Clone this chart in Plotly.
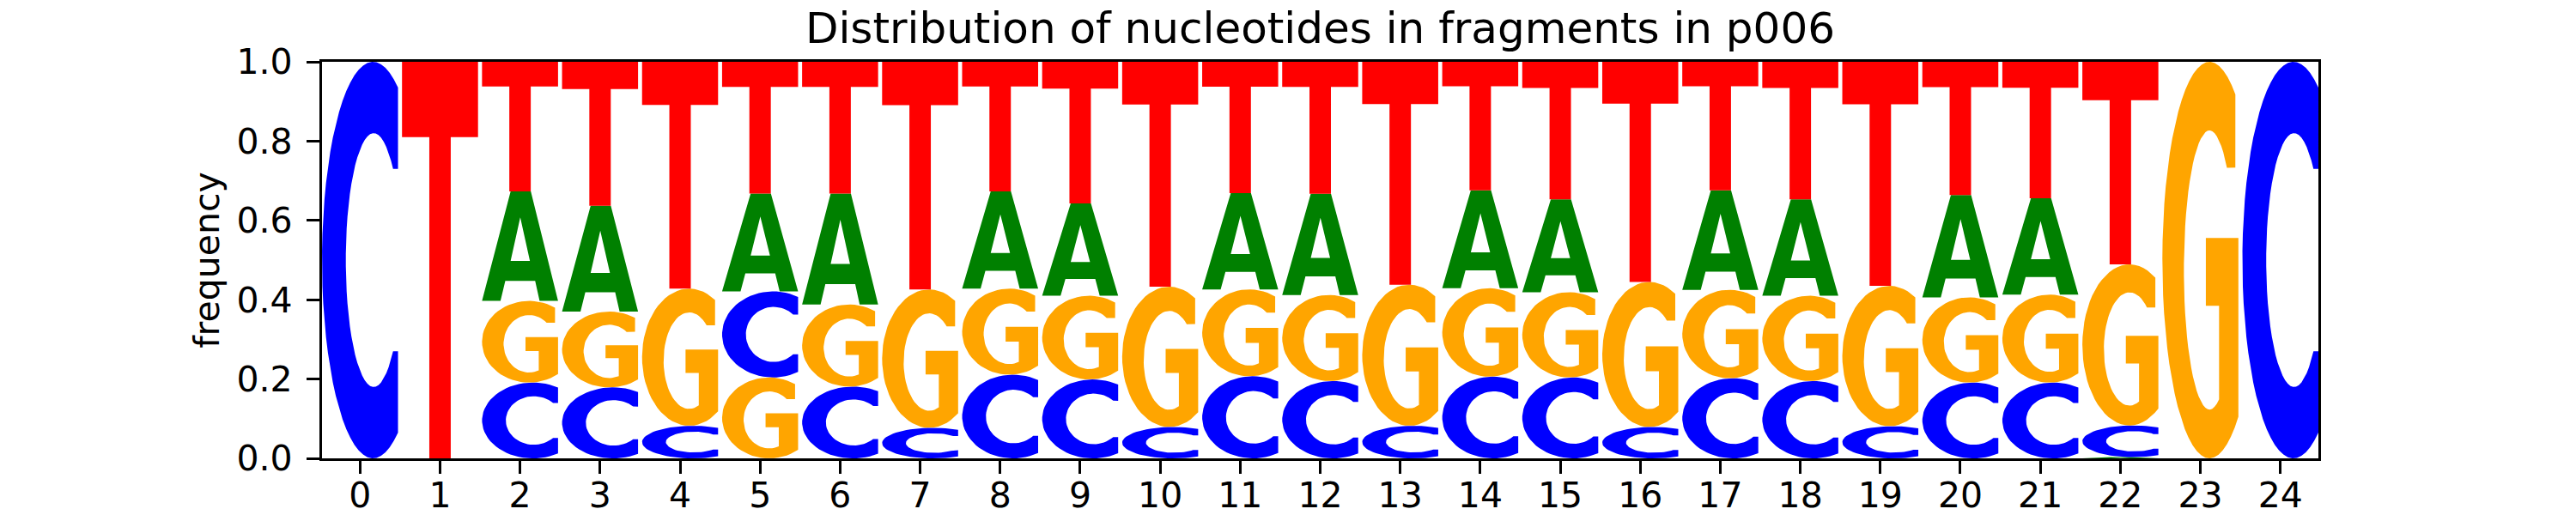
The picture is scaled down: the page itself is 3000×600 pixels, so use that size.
import numpy as np
import plotly.graph_objects as go

# sequence logo, positions 0..24
positions = list(range(25))
freq_A = [0, 0, 0.276, 0.267, 0, 0.247, 0.280, 0, 0.245, 0.233, 0, 0.243, 0.255,
          0, 0.247, 0.234, 0, 0.251, 0.243, 0, 0.258, 0.243, 0.003, 0, 0]
freq_C = [1.0, 0, 0.191, 0.179, 0.082, 0.217, 0.181, 0.077, 0.211, 0.199, 0.079, 0.207, 0.195,
          0.082, 0.206, 0.204, 0.079, 0.202, 0.195, 0.081, 0.191, 0.191, 0.080, 0, 1.0]
freq_G = [0, 0, 0.206, 0.191, 0.346, 0.204, 0.207, 0.349, 0.217, 0.211, 0.354, 0.219, 0.217,
          0.356, 0.223, 0.215, 0.366, 0.223, 0.215, 0.354, 0.215, 0.222, 0.406, 1.0, 0]
freq_T = [0, 1.0, 0.327, 0.363, 0.572, 0.332, 0.332, 0.574, 0.327, 0.357, 0.567, 0.331, 0.333,
          0.562, 0.324, 0.347, 0.555, 0.324, 0.347, 0.565, 0.336, 0.344, 0.511, 0, 0]

letters = ["A", "C", "G", "T"]
freqs = {"A": freq_A, "C": freq_C, "G": freq_G, "T": freq_T}
colors = {"A": "#008000", "C": "#0000ff", "G": "#ffa500", "T": "#ff0000"}
WIDTH = 0.95


def arc(cx, cy, rx, ry, a0, a1, n=48):
    t = np.radians(np.linspace(a0, a1, n))
    return list(zip(cx + rx * np.cos(t), cy + ry * np.sin(t)))


# letter outlines in a unit box, stretched later to each stack slot
def glyph_C():
    pts = arc(0.67, 0.5, 0.67, 0.5, 60.5, 299.5)
    pts.append((1.0, 0.27))
    pts += arc(0.68, 0.5, 0.367, 0.32, 314, 46)
    pts.append((1.0, 0.73))
    return pts


def glyph_G():
    pts = arc(0.62, 0.5, 0.62, 0.5, 56.7, 307.8)
    pts += [(1.0, 0.556), (0.572, 0.556), (0.572, 0.385), (0.746, 0.385)]
    pts += arc(0.62, 0.475, 0.337, 0.352, 292, 47.1)
    pts.append((0.96, 0.733))
    return pts


GLYPHS = {
    "A": [(0, 0), (0.243, 0), (0.306, 0.183), (0.699, 0.183), (0.757, 0), (1, 0),
          (0.642, 1), (0.376, 1)],
    "C": glyph_C(),
    "G": glyph_G(),
    "T": [(0, 1), (1, 1), (1, 0.81), (0.641, 0.81), (0.641, 0), (0.359, 0),
          (0.359, 0.81), (0, 0.81)],
}
A_HOLE = [(0.376, 0.366), (0.630, 0.366), (0.503, 0.764)]

xs = {L: [] for L in letters}
ys = {L: [] for L in letters}
hole_x, hole_y = [], []


def place(pts, p, y0, h, bx, by):
    for u, v in pts:
        bx.append(p - WIDTH / 2 + WIDTH * u)
        by.append(y0 + h * v)
    bx.append(None)
    by.append(None)


for i, p in enumerate(positions):
    # smallest at the bottom, biggest on top
    stack = sorted([(freqs[L][i], L) for L in letters if freqs[L][i] > 0])
    floor = 0.0
    for v, L in stack:
        place(GLYPHS[L], p, floor, v, xs[L], ys[L])
        if L == "A":
            place(A_HOLE, p, floor, v, hole_x, hole_y)
        floor += v

fig = go.Figure()
for L in letters:
    fig.add_trace(go.Scatter(
        x=xs[L], y=ys[L], mode="lines", fill="toself",
        fillcolor=colors[L], line=dict(width=0, color=colors[L]),
        hoverinfo="skip", showlegend=False, name=L
    ))
fig.add_trace(go.Scatter(
    x=hole_x, y=hole_y, mode="lines", fill="toself",
    fillcolor="white", line=dict(width=0, color="white"),
    hoverinfo="skip", showlegend=False
))

axis_style = dict(
    showline=True, linecolor="black", linewidth=3.3, mirror=True,
    ticks="outside", ticklen=15, tickwidth=3.3, tickcolor="black",
    showgrid=False, zeroline=False, automargin=False,
    tickfont=dict(family="DejaVu Sans", size=41, color="black"),
)

fig.update_layout(
    width=3000, height=600,
    margin=dict(l=375, r=300, t=72, b=66, autoexpand=False),
    paper_bgcolor="white", plot_bgcolor="white",
    font=dict(family="DejaVu Sans", color="black"),
    title=dict(
        text="Distribution of nucleotides in fragments in p006",
        font=dict(family="DejaVu Sans", size=50, color="black"),
        x=0.5, xref="paper", xanchor="center",
        y=1, yref="paper", yanchor="bottom", pad=dict(b=22),
    ),
    xaxis=dict(range=[-0.475, 24.475], tickvals=positions,
               ticktext=[str(p) for p in positions], ticklabelstandoff=-10, **axis_style),
    yaxis=dict(range=[0, 1], tickvals=[0, 0.2, 0.4, 0.6, 0.8, 1.0],
               ticktext=["0.0", "0.2", "0.4", "0.6", "0.8", "1.0"], ticklabelstandoff=8,
               title=dict(text="frequency", standoff=8,
                          font=dict(family="DejaVu Sans", size=41, color="black")),
               **axis_style),
)

# drop the default page margin so the 3000x600 figure sits flush in the window
fig.write_html("out.html", config={"displayModeBar": False},
               post_script="document.body.style.margin='0';")
